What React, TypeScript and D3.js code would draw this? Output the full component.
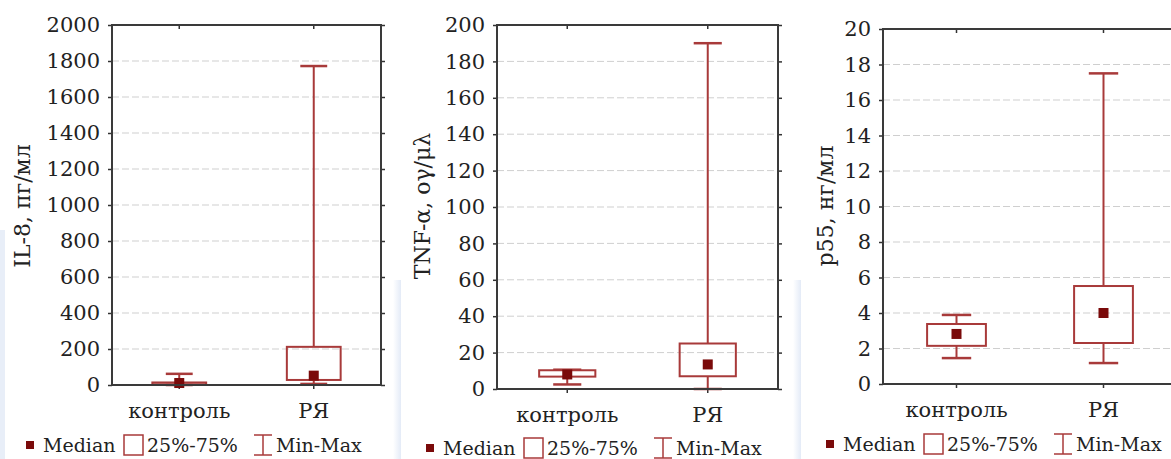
import React, { useRef, useEffect } from 'react';
import * as d3 from 'd3';

// groups
const categories = ["контроль", "РЯ"];

// IL-8, pg/ml
const il8Min = [0, 6];
const il8Q1 = [2, 28];
const il8Median = [11, 52];
const il8Q3 = [14, 212];
const il8Max = [62, 1772];

// TNF-alpha
const tnfMin = [2.5, 0];
const tnfQ1 = [6.8, 7];
const tnfMedian = [8, 13.5];
const tnfQ3 = [10.3, 25];
const tnfMax = [10.6, 190];

// p55, ng/ml
const p55Min = [1.46, 1.18];
const p55Q1 = [2.15, 2.31];
const p55Median = [2.82, 4.0];
const p55Q3 = [3.38, 5.52];
const p55Max = [3.89, 17.5];

const il8Ticks = [0, 200, 400, 600, 800, 1000, 1200, 1400, 1600, 1800, 2000];
const tnfTicks = [0, 20, 40, 60, 80, 100, 120, 140, 160, 180, 200];
const p55Ticks = [0, 2, 4, 6, 8, 10, 12, 14, 16, 18, 20];

const legendLabels = ["Median", "25%-75%", "Min-Max"];

const FONT = "'DejaVu Serif', 'Noto Serif', serif";
const BOX = "#a83a3a";
const MED = "#7a0a0a";
const INK = "#222";

const App = () => {
    const svgRef = useRef<SVGSVGElement>(null);

    useEffect(() => {
        const svg = d3.select(svgRef.current);
        svg.selectAll("*").remove();

        const panels = [
            { title: "IL-8, пг/мл", ticks: il8Ticks, min: il8Min, q1: il8Q1, med: il8Median, q3: il8Q3, max: il8Max,
              left: 112, right: 381, top: 25, bottom: 385, titleX: 22, legendX: 30, legendY: 452 },
            { title: "TNF-α, ογ/μλ", ticks: tnfTicks, min: tnfMin, q1: tnfQ1, med: tnfMedian, q3: tnfQ3, max: tnfMax,
              left: 497, right: 778, top: 25, bottom: 389, titleX: 422, legendX: 430, legendY: 455 },
            { title: "p55, нг/мл", ticks: p55Ticks, min: p55Min, q1: p55Q1, med: p55Median, q3: p55Q3, max: p55Max,
              left: 883, right: 1177, top: 29, bottom: 384, titleX: 825, legendX: 830, legendY: 451 },
        ];

        // faint bluish strips from the pasted source image
        const defs = svg.append("defs");
        const grad = defs.append("linearGradient").attr("id", "strip").attr("x1", 0).attr("x2", 1);
        grad.append("stop").attr("offset", "0%").attr("stop-color", "#ffffff");
        grad.append("stop").attr("offset", "100%").attr("stop-color", "#e4ebf7");
        [[0, 230, 5], [393, 280, 8], [793, 280, 8]].forEach(([x, y, w]) => {
            svg.append("rect").attr("x", x).attr("y", y).attr("width", w).attr("height", 459 - y)
                .attr("fill", x === 0 ? "#e8eef8" : "url(#strip)");
        });

        panels.forEach(p => {
            const width = p.right - p.left;
            const x = d3.scalePoint().domain(categories).range([p.left, p.right]).padding(0.5);
            const y = d3.scaleLinear().domain([p.ticks[0], p.ticks[p.ticks.length - 1]]).range([p.bottom, p.top]);
            const g = svg.append("g");

            // grid
            g.selectAll(".grid")
                .data(p.ticks.slice(1, -1))
                .enter()
                .append("line")
                .attr("x1", p.left)
                .attr("x2", p.right)
                .attr("y1", d => y(d))
                .attr("y2", d => y(d))
                .attr("stroke", "#cfcfcf")
                .attr("stroke-width", 1)
                .attr("stroke-dasharray", "7 3");

            // left axis
            const ya = g.append("g")
                .attr("transform", "translate(" + p.left + ",0)")
                .call(d3.axisLeft(y).tickValues(p.ticks).tickSize(4).tickPadding(8).tickFormat(d3.format("d")));
            ya.select(".domain").remove();
            ya.selectAll("line").attr("stroke", "#333").attr("stroke-width", 1.5);
            ya.selectAll("text").attr("fill", INK).style("font-family", FONT).style("font-size", "21px");

            // right axis ticks
            const yr = g.append("g")
                .attr("transform", "translate(" + p.right + ",0)")
                .call(d3.axisRight(y).tickValues(p.ticks).tickSize(4).tickFormat(() => ""));
            yr.select(".domain").remove();
            yr.selectAll("line").attr("stroke", "#333").attr("stroke-width", 1.5);

            // category ticks top (inside) and bottom (outside)
            categories.forEach(c => {
                g.append("line").attr("x1", x(c)).attr("x2", x(c)).attr("y1", p.top).attr("y2", p.top + 4)
                    .attr("stroke", "#333").attr("stroke-width", 1.5);
                g.append("line").attr("x1", x(c)).attr("x2", x(c)).attr("y1", p.bottom).attr("y2", p.bottom + 4)
                    .attr("stroke", "#333").attr("stroke-width", 1.5);
            });

            // boxes
            const boxW = width * 0.2;
            const capW = width * 0.1;
            categories.forEach((c, i) => {
                const cx = x(c) as number;
                g.append("line").attr("x1", cx).attr("x2", cx).attr("y1", y(p.max[i])).attr("y2", y(p.q3[i]))
                    .attr("stroke", BOX).attr("stroke-width", 2);
                g.append("line").attr("x1", cx).attr("x2", cx).attr("y1", y(p.q1[i])).attr("y2", y(p.min[i]))
                    .attr("stroke", BOX).attr("stroke-width", 2);
                g.append("line").attr("x1", cx - capW / 2).attr("x2", cx + capW / 2)
                    .attr("y1", y(p.max[i])).attr("y2", y(p.max[i])).attr("stroke", BOX).attr("stroke-width", 2.5);
                g.append("line").attr("x1", cx - capW / 2).attr("x2", cx + capW / 2)
                    .attr("y1", y(p.min[i])).attr("y2", y(p.min[i])).attr("stroke", BOX).attr("stroke-width", 2.5);
                g.append("rect")
                    .attr("x", cx - boxW / 2)
                    .attr("width", boxW)
                    .attr("y", y(p.q3[i]))
                    .attr("height", Math.max(1, y(p.q1[i]) - y(p.q3[i])))
                    .attr("fill", "none")
                    .attr("stroke", BOX)
                    .attr("stroke-width", 2);
                g.append("rect")
                    .attr("x", cx - 5)
                    .attr("y", y(p.med[i]) - 5)
                    .attr("width", 10)
                    .attr("height", 10)
                    .attr("fill", MED);
            });

            // frame
            g.append("rect")
                .attr("x", p.left)
                .attr("y", p.top)
                .attr("width", width)
                .attr("height", p.bottom - p.top)
                .attr("fill", "none")
                .attr("stroke", "#3a3a3a")
                .attr("stroke-width", 2);

            // category labels
            g.selectAll(".cat")
                .data(categories)
                .enter()
                .append("text")
                .attr("x", d => x(d) as number)
                .attr("y", p.bottom + 33)
                .attr("text-anchor", "middle")
                .attr("fill", INK)
                .style("font-family", FONT)
                .style("font-size", "21px")
                .text(d => d);

            // y title
            g.append("text")
                .attr("transform", "translate(" + p.titleX + "," + 206 + ") rotate(-90)")
                .attr("dy", "0.35em")
                .attr("text-anchor", "middle")
                .attr("fill", INK)
                .style("font-family", FONT)
                .style("font-size", "22px")
                .text(p.title);

            // legend
            const base = p.legendY;
            const lx = p.legendX;
            g.append("rect").attr("x", lx - 4).attr("y", base - 11).attr("width", 8).attr("height", 8).attr("fill", MED);
            g.append("rect").attr("x", lx + 94).attr("y", base - 17).attr("width", 19).attr("height", 20)
                .attr("fill", "none").attr("stroke", BOX).attr("stroke-width", 1.5);
            const wx = lx + 233;
            g.append("line").attr("x1", wx).attr("x2", wx).attr("y1", base - 17).attr("y2", base + 3)
                .attr("stroke", BOX).attr("stroke-width", 1.5);
            g.append("line").attr("x1", wx - 9).attr("x2", wx + 9).attr("y1", base - 17).attr("y2", base - 17)
                .attr("stroke", BOX).attr("stroke-width", 1.5);
            g.append("line").attr("x1", wx - 9).attr("x2", wx + 9).attr("y1", base + 3).attr("y2", base + 3)
                .attr("stroke", BOX).attr("stroke-width", 1.5);
            [lx + 13, lx + 117, lx + 246].forEach((tx, i) => {
                g.append("text")
                    .attr("x", tx)
                    .attr("y", base)
                    .attr("fill", INK)
                    .style("font-family", FONT)
                    .style("font-size", "19px")
                    .text(legendLabels[i]);
            });
        });
    }, []);

    return (
        <svg ref={svgRef} width={1171} height={459}
            style={{ position: "fixed", left: 0, top: 0, background: "#fff", display: "block" }}></svg>
    );
};

export default App;
